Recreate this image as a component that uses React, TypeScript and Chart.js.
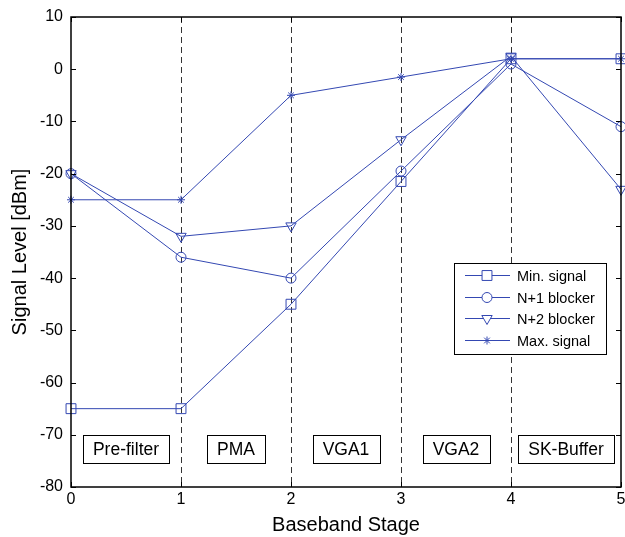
import React, { useEffect, useRef } from "react";
import { Chart, registerables } from "chart.js";

Chart.register(...registerables);

const stages = [0, 1, 2, 3, 4, 5];
const minSignal = [-65, -65, -45, -21.5, 2, 2];
const n1Blocker = [-20, -36, -40, -19.5, 1, -11];
const n2Blocker = [-20, -32, -30, -13.5, 2.5, -23];
const maxSignal = [-25, -25, -5, -1.5, 2, 2];
const seriesNames = ["Min. signal", "N+1 blocker", "N+2 blocker", "Max. signal"];
const blockLabels = ["Pre-filter", "PMA", "VGA1", "VGA2", "SK-Buffer"];
const blockCenters = [0.5, 1.5, 2.5, 3.5, 4.5];
const blockY = -72.8;
const dividers = [1, 2, 3, 4];
const xTicks = [0, 1, 2, 3, 4, 5];
const yTicks = [-80, -70, -60, -50, -40, -30, -20, -10, 0, 10];

const BLUE = "rgb(52,72,178)";
const FONT = "'Liberation Sans', Arial, Helvetica, sans-serif";

const styles: any[] = [
  { style: "rect", radius: 7, rotation: 0 },
  { style: "circle", radius: 5, rotation: 0 },
  { style: "triangle", radius: 6, rotation: 180 },
  { style: "star", radius: 4, rotation: 0 },
];

function drawMarker(ctx: CanvasRenderingContext2D, s: any, x: number, y: number) {
  ctx.save();
  ctx.strokeStyle = BLUE;
  ctx.fillStyle = "#fff";
  ctx.lineWidth = 1;
  ctx.beginPath();
  const r = s.radius;
  if (s.style === "rect") {
    const h = Math.SQRT1_2 * r;
    ctx.rect(x - h, y - h, 2 * h, 2 * h);
    ctx.fill(); ctx.stroke();
  } else if (s.style === "circle") {
    ctx.arc(x, y, r, 0, Math.PI * 2);
    ctx.fill(); ctx.stroke();
  } else if (s.style === "triangle") {
    ctx.moveTo(x, y + r);
    ctx.lineTo(x - r * Math.sin(Math.PI / 3), y - r / 2);
    ctx.lineTo(x + r * Math.sin(Math.PI / 3), y - r / 2);
    ctx.closePath();
    ctx.fill(); ctx.stroke();
  } else {
    for (let k = 0; k < 4; k++) {
      const ang = (k * Math.PI) / 4;
      ctx.moveTo(x - r * Math.cos(ang), y - r * Math.sin(ang));
      ctx.lineTo(x + r * Math.cos(ang), y + r * Math.sin(ang));
    }
    ctx.stroke();
  }
  ctx.restore();
}

const overlay = {
  id: "overlay",
  beforeDatasetsDraw(chart: any) {
    const { ctx, chartArea: a, scales } = chart;
    const xs = scales.x, ys = scales.y;
    ctx.save();
    ctx.strokeStyle = "#333";
    ctx.lineWidth = 1;
    ctx.setLineDash([6, 4]);
    dividers.forEach((d) => {
      const px = Math.round(xs.getPixelForValue(d)) + 0.5;
      ctx.beginPath();
      ctx.moveTo(px, a.top);
      ctx.lineTo(px, a.bottom);
      ctx.stroke();
    });
    ctx.setLineDash([]);
    ctx.font = `17.5px ${FONT}`;
    ctx.textAlign = "center";
    ctx.textBaseline = "middle";
    blockLabels.forEach((t, i) => {
      const cx = xs.getPixelForValue(blockCenters[i]);
      const cy = ys.getPixelForValue(blockY);
      const w = Math.round(ctx.measureText(t).width + 20);
      const h = 28;
      const bx = Math.round(cx - w / 2) + 0.5;
      const by = Math.round(cy - h / 2) + 0.5;
      ctx.fillStyle = "#fff";
      ctx.fillRect(bx, by, w, h);
      ctx.strokeStyle = "#000";
      ctx.strokeRect(bx, by, w, h);
      ctx.fillStyle = "#000";
      ctx.fillText(t, cx, cy + 1);
    });
    ctx.restore();
  },
  afterDatasetsDraw(chart: any) {
    const { ctx, chartArea: a, scales } = chart;
    const xs = scales.x, ys = scales.y;
    ctx.save();
    ctx.strokeStyle = "#000";
    ctx.lineWidth = 1.5;
    ctx.strokeRect(a.left, a.top, a.right - a.left, a.bottom - a.top);
    ctx.lineWidth = 1;
    const tl = 5;
    xTicks.forEach((v) => {
      const px = Math.round(xs.getPixelForValue(v)) + 0.5;
      ctx.beginPath();
      ctx.moveTo(px, a.bottom); ctx.lineTo(px, a.bottom - tl);
      ctx.moveTo(px, a.top); ctx.lineTo(px, a.top + tl);
      ctx.stroke();
    });
    yTicks.forEach((v) => {
      const py = Math.round(ys.getPixelForValue(v)) + 0.5;
      ctx.beginPath();
      ctx.moveTo(a.left, py); ctx.lineTo(a.left + tl, py);
      ctx.moveTo(a.right, py); ctx.lineTo(a.right - tl, py);
      ctx.stroke();
    });
    const lw = 152, lh = 91;
    const lx = Math.round(a.right - 15 - lw);
    const ly = 263;
    ctx.fillStyle = "#fff";
    ctx.fillRect(lx + 0.5, ly + 0.5, lw, lh);
    ctx.strokeStyle = "#000";
    ctx.strokeRect(lx + 0.5, ly + 0.5, lw, lh);
    ctx.font = `14.5px ${FONT}`;
    ctx.textAlign = "left";
    ctx.textBaseline = "middle";
    seriesNames.forEach((name, i) => {
      const cy = Math.round(ly + 12 + i * 21.6) + 0.5;
      ctx.strokeStyle = BLUE;
      ctx.lineWidth = 1;
      ctx.beginPath();
      ctx.moveTo(lx + 11, cy);
      ctx.lineTo(lx + 56, cy);
      ctx.stroke();
      drawMarker(ctx, styles[i], lx + 33, cy);
      ctx.fillStyle = "#000";
      ctx.fillText(name, lx + 63, cy + 1);
    });
    ctx.restore();
  },
};

export default function App() {
  const ref = useRef<HTMLCanvasElement>(null);
  useEffect(() => {
    if (!ref.current) return;
    const series = [minSignal, n1Blocker, n2Blocker, maxSignal];
    const chart = new Chart(ref.current, {
      type: "line",
      data: {
        datasets: series.map((vals, i) => ({
          label: seriesNames[i],
          data: stages.map((s, j) => ({ x: s, y: vals[j] })),
          borderColor: BLUE,
          backgroundColor: "rgba(0,0,0,0)",
          borderWidth: 1,
          pointStyle: styles[i].style,
          pointRadius: styles[i].radius,
          pointRotation: styles[i].rotation,
          pointBorderColor: BLUE,
          pointBackgroundColor: "rgba(0,0,0,0)",
          pointBorderWidth: 1,
          tension: 0,
          clip: false as any,
        })),
      },
      options: {
        responsive: false,
        animation: false,
        devicePixelRatio: 1,
        layout: { autoPadding: false, padding: { top: 17, right: 4, left: 0, bottom: 0 } },
        plugins: { legend: { display: false }, tooltip: { enabled: false } },
        scales: {
          x: {
            type: "linear",
            min: 0,
            max: 5,
            grid: { display: false, drawTicks: false },
            border: { display: false },
            ticks: {
              stepSize: 1,
              color: "#000",
              font: { family: FONT, size: 16 },
              padding: 3,
              maxRotation: 0,
            },
            title: {
              display: true,
              text: "Baseband Stage",
              color: "#000",
              font: { family: FONT, size: 20 },
              padding: { top: 0, bottom: 0 },
            },
            afterFit: (s: any) => { s.height = 50; s.paddingRight = 0; s.paddingLeft = 0; },
          },
          y: {
            type: "linear",
            min: -80,
            max: 10,
            grid: { display: false, drawTicks: false },
            border: { display: false },
            ticks: {
              stepSize: 10,
              color: "#000",
              font: { family: FONT, size: 16 },
              padding: 8,
            },
            title: {
              display: true,
              text: "Signal Level [dBm]",
              color: "#000",
              font: { family: FONT, size: 20 },
              padding: { top: 8, bottom: 0 },
            },
            afterFit: (s: any) => { s.width = 71; s.paddingTop = 0; s.paddingBottom = 0; },
          },
        },
      },
      plugins: [overlay],
    });
    return () => chart.destroy();
  }, []);
  return (
    <div style={{ position: "fixed", left: 0, top: 0, width: 625, height: 537, background: "#fff" }}>
      <canvas ref={ref} width={625} height={537} style={{ width: 625, height: 537, display: "block" }} />
    </div>
  );
}
